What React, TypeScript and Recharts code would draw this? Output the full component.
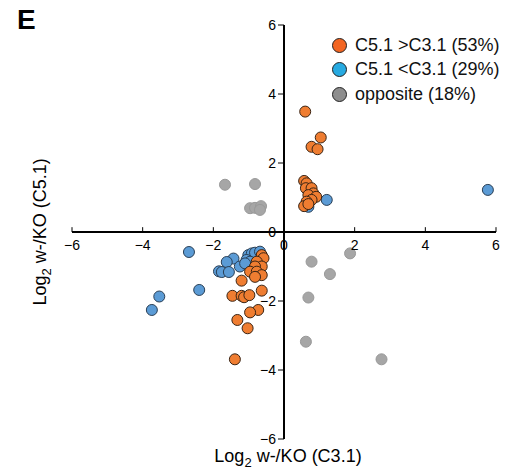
import React from "react";
import { ScatterChart, Scatter, XAxis, YAxis, ReferenceLine, ReferenceDot } from "recharts";

// points: [log2 w-/KO (C3.1), log2 w-/KO (C5.1)]
const oppositePts = [
  [-1.67, 1.37], [-0.82, 1.39], [-0.96, 0.69], [-0.82, 0.7], [-0.65, 0.75], [-0.68, 0.64],
  [0.78, -0.86], [1.87, -0.62], [1.3, -1.22], [0.69, -1.9], [0.62, -3.18], [2.76, -3.69],
];

const lowerPts = [
  [1.21, 0.93], [0.69, 0.73], [5.77, 1.22],
  [-2.69, -0.58], [-2.4, -1.68], [-3.53, -1.87], [-3.74, -2.26],
  [-1.43, -0.77], [-1.62, -0.87], [-1.84, -1.14], [-1.76, -1.16], [-1.56, -1.16], [-1.25, -1.0],
  [-1.01, -0.67], [-0.91, -0.62], [-0.82, -0.6], [-0.68, -0.57], [-1.06, -0.81], [-0.96, -0.86],
  [-1.1, -0.91],
];

const higherPts = [
  [0.6, 3.49], [1.04, 2.74], [0.78, 2.47], [0.95, 2.4],
  [0.57, 1.48], [0.64, 1.41], [0.62, 1.27], [0.78, 1.27], [0.83, 1.12], [0.69, 1.07],
  [0.91, 1.02], [0.78, 0.93], [0.64, 0.88], [0.57, 0.75], [0.69, 0.81],
  [-0.63, -0.67], [-0.58, -0.76], [-0.77, -0.86], [-0.63, -1.0], [-0.82, -1.0], [-0.96, -1.15],
  [-0.77, -1.15], [-0.63, -1.25], [-0.82, -1.3], [-1.2, -1.41], [-0.63, -1.7], [-1.46, -1.85],
  [-1.2, -1.85], [-1.13, -1.89], [-0.98, -1.83], [-0.73, -2.26], [-0.96, -2.33], [-1.32, -2.55],
  [-1.03, -2.79], [-1.39, -3.69],
];

const axisTicks = [-6, -4, -2, 0, 2, 4, 6];

const legendItems = [
  { label: "C5.1 >C3.1 (53%)", color: "#f26522" },
  { label: "C5.1 <C3.1 (29%)", color: "#27aae1" },
  { label: "opposite (18%)", color: "#8e8e8e" },
];

const toRows = (pts: number[][]) => pts.map(([x, y]) => ({ x, y }));

const dot = (fill: string, stroke: string) => (p: any) => (
  <circle cx={p.cx} cy={p.cy} r={5.5} fill={fill} stroke={stroke} strokeWidth={1} />
);

const fmt = (v: number) => (v < 0 ? `\u2212${-v}` : `${v}`);

export default function App() {
  const font = "'Liberation Sans', Arial, sans-serif";
  return (
    <div style={{ position: "absolute", left: 0, top: 0, width: 523, height: 476, background: "#fff", fontFamily: font }}>
      <ScatterChart width={523} height={476} margin={{ top: 25, right: 27, bottom: 37, left: 72 }}>
        <XAxis type="number" dataKey="x" domain={[-6, 6]} hide />
        <YAxis type="number" dataKey="y" domain={[-6, 6]} hide />
        <ReferenceLine segment={[{ x: -6, y: 0 }, { x: 6, y: 0 }]} stroke="#000" strokeWidth={2} />
        <ReferenceLine segment={[{ x: 0, y: -6 }, { x: 0, y: 6 }]} stroke="#000" strokeWidth={2} />
        {axisTicks.map((t) => (
          <ReferenceLine key={`xt${t}`} segment={[{ x: t, y: 0 }, { x: t, y: 0.14 }]} stroke="#000" strokeWidth={1} />
        ))}
        {axisTicks.map((t) => (
          <ReferenceLine key={`yt${t}`} segment={[{ x: -0.17, y: t }, { x: 0, y: t }]} stroke="#000" strokeWidth={1} />
        ))}
        {axisTicks.map((t) => (
          <ReferenceDot key={`xl${t}`} x={t} y={0} r={0} stroke="none" fill="none"
            label={{ value: fmt(t), position: "bottom", offset: 8, fontSize: 14, fill: "#000", fontFamily: font }} />
        ))}
        {axisTicks.map((t) => (
          <ReferenceDot key={`yl${t}`} x={0} y={t} r={0} stroke="none" fill="none"
            label={{ value: fmt(t), position: "left", offset: 8, fontSize: 14, fill: "#000", fontFamily: font }} />
        ))}
        <Scatter data={toRows(oppositePts)} shape={dot("#a6a6a6", "#999999")} isAnimationActive={false} />
        <Scatter data={toRows(lowerPts)} shape={dot("#5b9bd5", "#2a3f55")} isAnimationActive={false} />
        <Scatter data={toRows(higherPts)} shape={dot("#ef7d31", "#3a2414")} isAnimationActive={false} />
      </ScatterChart>

      <div style={{ position: "absolute", left: 17, top: 4, fontSize: 28, fontWeight: "bold" }}>E</div>

      <div style={{ position: "absolute", left: 332, top: 33 }}>
        {legendItems.map((it) => (
          <div key={it.label} style={{ display: "flex", alignItems: "center", height: 24.5, fontSize: 18, color: "#111", whiteSpace: "nowrap" }}>
            <span style={{ display: "inline-block", width: 13, height: 13, borderRadius: "50%", background: it.color, border: "1.5px solid #222", marginRight: 8 }} />
            {it.label}
          </div>
        ))}
      </div>

      <div style={{ position: "absolute", left: 0, width: 576, top: 446, textAlign: "center", fontSize: 18, whiteSpace: "nowrap" }}>
        Log<sub style={{ fontSize: 13 }}>2</sub> w-/KO (C3.1)
      </div>

      <div style={{ position: "absolute", left: 42, top: 232, width: 0, height: 0 }}>
        <div style={{ position: "absolute", left: -150, top: -12, width: 300, textAlign: "center", fontSize: 18, whiteSpace: "nowrap", transform: "rotate(-90deg)" }}>
          Log<sub style={{ fontSize: 13 }}>2</sub> w-/KO (C5.1)
        </div>
      </div>
    </div>
  );
}
